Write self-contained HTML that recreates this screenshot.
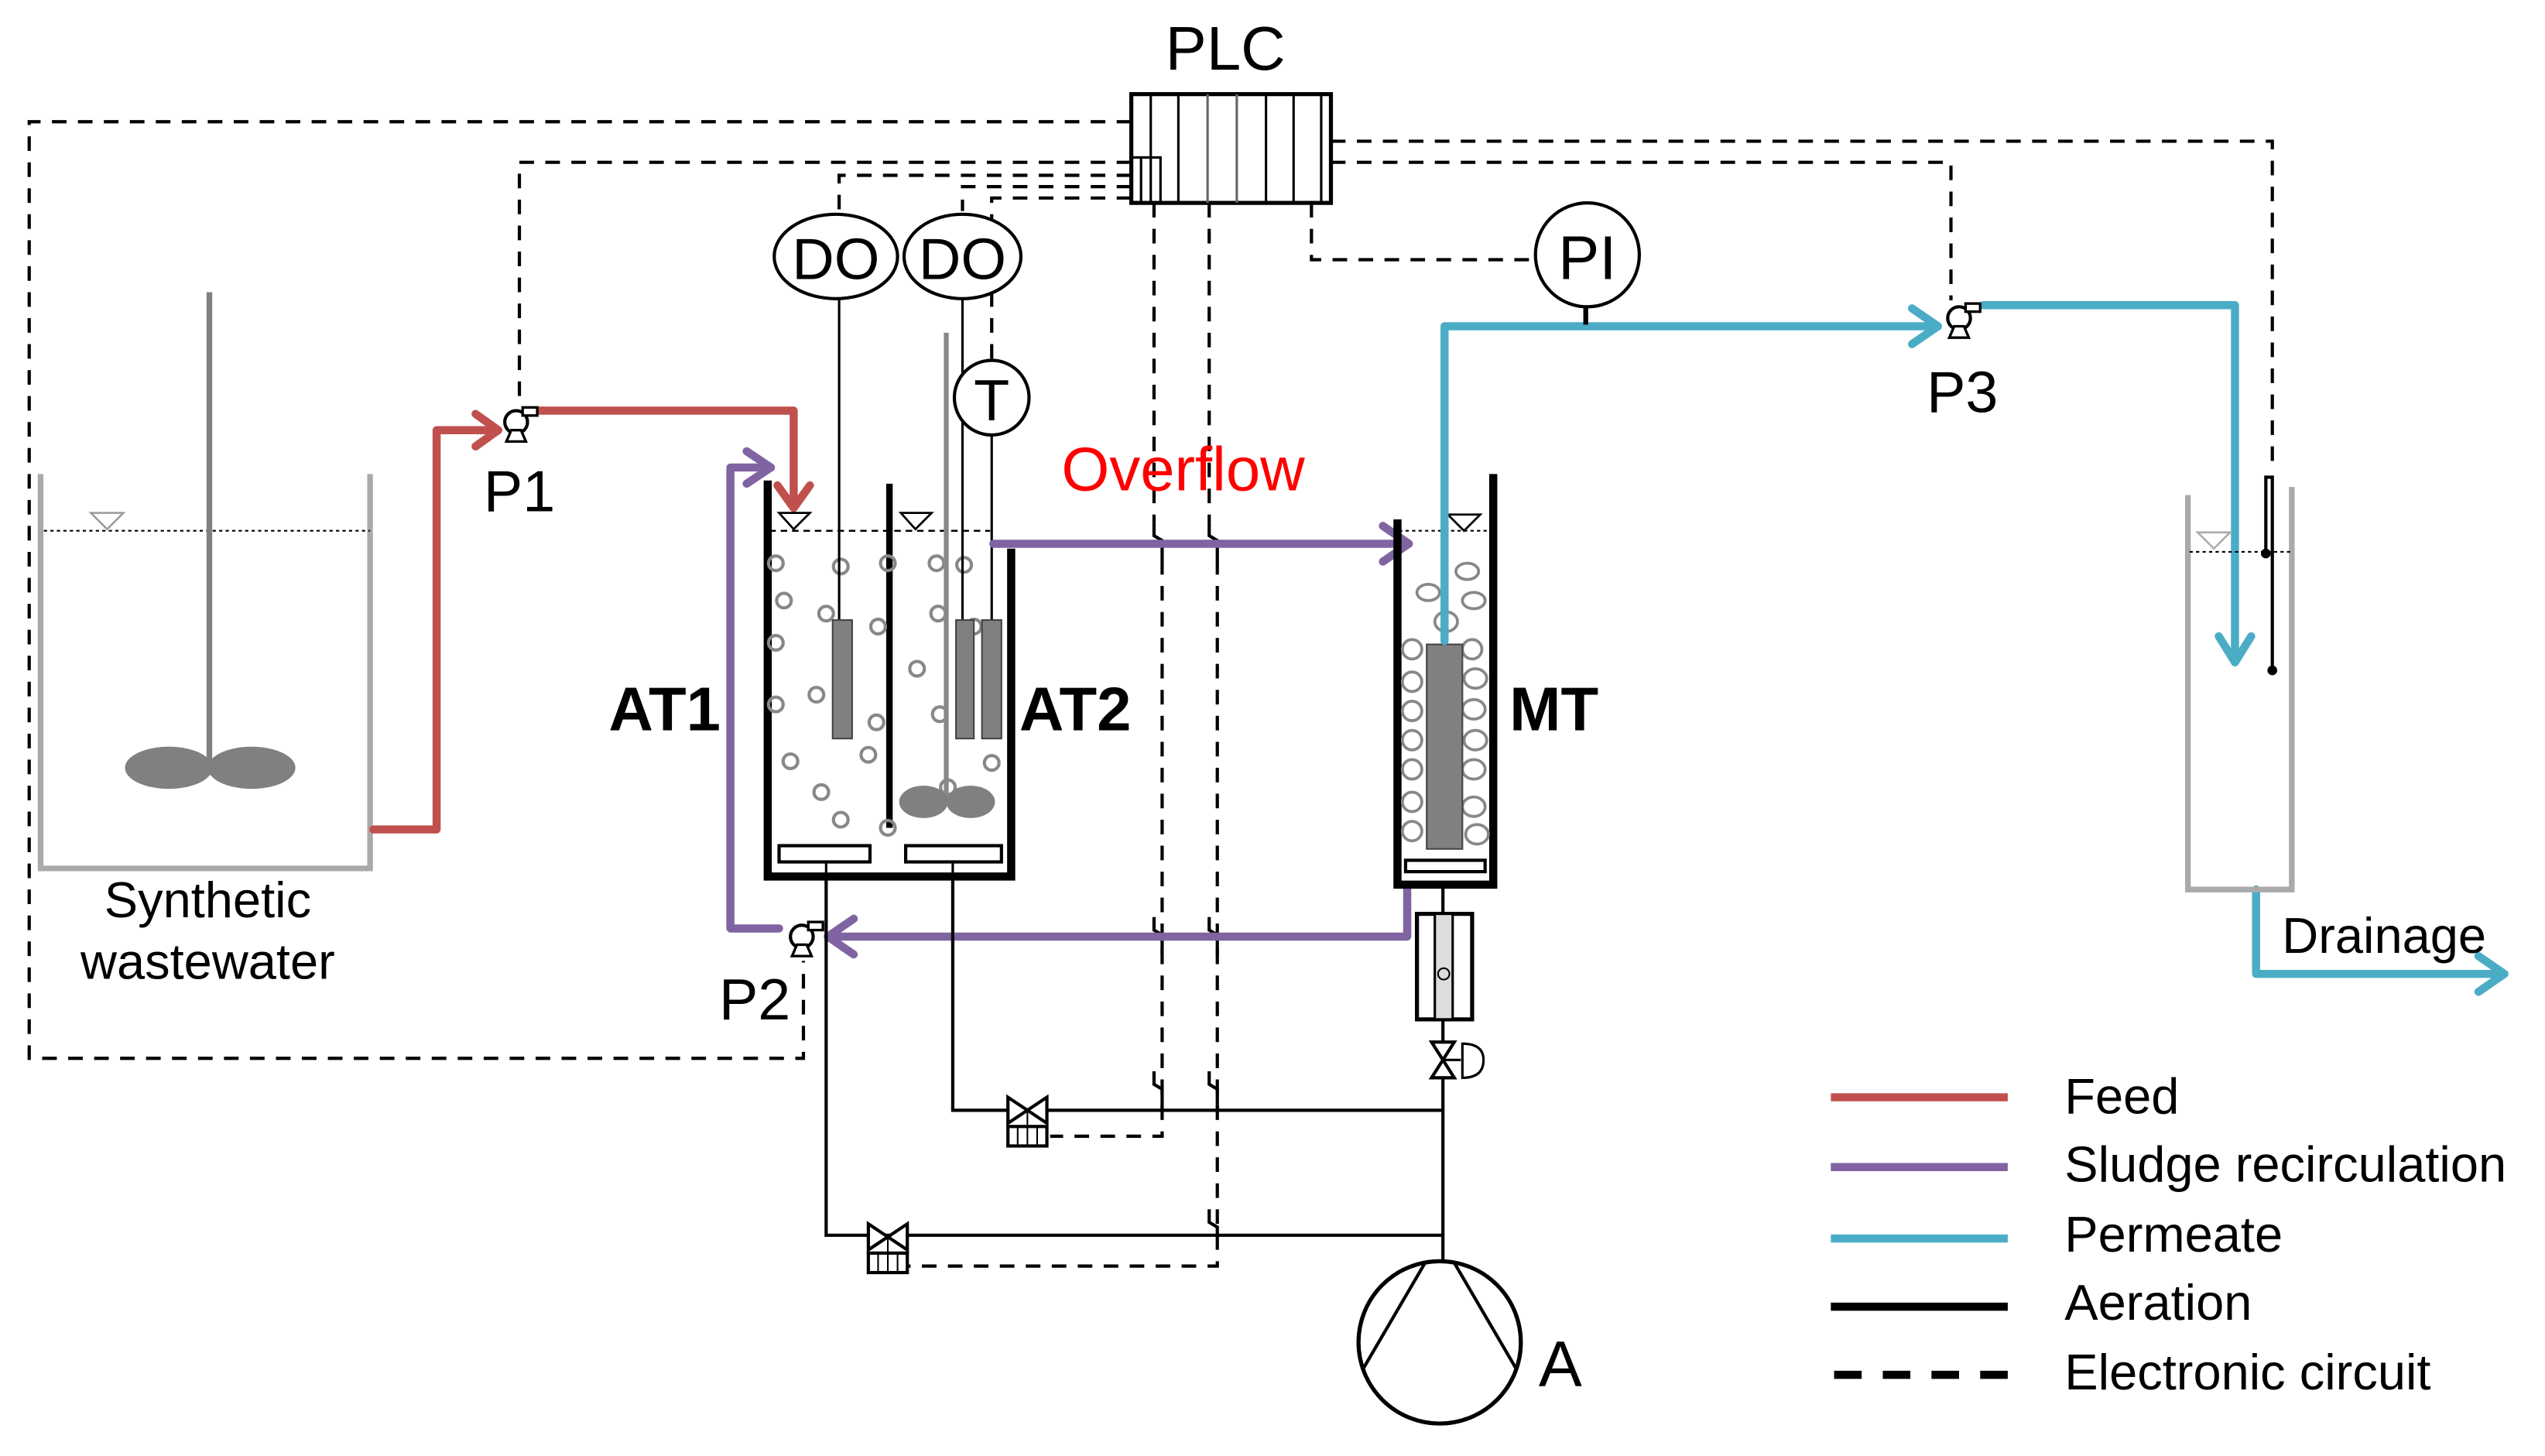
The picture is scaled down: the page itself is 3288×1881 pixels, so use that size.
<!DOCTYPE html>
<html><head><meta charset="utf-8"><style>
html,body{margin:0;padding:0;background:#fff}
svg{display:block}
text{font-family:"Liberation Sans",Arial,sans-serif}
</style></head><body>
<svg width="3288" height="1881" viewBox="0 0 1568 897" preserveAspectRatio="none" xmlns="http://www.w3.org/2000/svg">
<defs>
<g id="pump"><circle cx="0" cy="0" r="7" fill="#fff" stroke="#000" stroke-width="2"/><rect x="4" y="-9" width="9" height="5" fill="#fff" stroke="#000" stroke-width="1.6"/><path d="M-6 12 L-3 5 L3 5 L6 12 Z" fill="#fff" stroke="#000" stroke-width="1.6"/></g>
<g id="valve"><path d="M-12 -8 L12 8 L12 -8 L-12 8 Z" fill="#fff" stroke="#000" stroke-width="2"/><line x1="0" y1="0" x2="0" y2="10" stroke="#000" stroke-width="1"/><rect x="-12" y="10" width="24" height="12" fill="#fff" stroke="#000" stroke-width="2"/><line x1="-6" y1="10" x2="-6" y2="22" stroke="#000" stroke-width="1"/><line x1="0" y1="10" x2="0" y2="22" stroke="#000" stroke-width="1"/><line x1="6" y1="10" x2="6" y2="22" stroke="#000" stroke-width="1"/></g>
</defs>
<rect width="1568" height="897" fill="#fff"/>

<g fill="none" stroke="#000" stroke-width="2" stroke-dasharray="9,7">
<path d="M697 75 H18 V652 H495 V592"/>
<path d="M697 100 H320 V246"/>
<path d="M697 108 H517 V130"/>
<path d="M697 115 H593 V130"/>
<path d="M697 122 H611 V222"/>
<path d="M820 87 H1400 V285"/>
<path d="M820 100 H1202 V185"/>
<path d="M808 125 V160 H946"/>
<path d="M711 125 V322 M716 345 V700 H647"/>
<path d="M745 125 V322 M750 345 V780 H560"/>
</g>
<g fill="none" stroke="#000" stroke-width="2">
<path d="M711 322 V330 L716 333 V345"/>
<path d="M745 322 V330 L750 333 V345"/>
<path d="M711 565 V573 L716 576 V588"/>
<path d="M745 565 V573 L750 576 V588"/>
<path d="M711 660 V668 L716 671 V684"/>
<path d="M745 660 V668 L750 671 V684"/>
<path d="M745 745 V753 L750 756 V762"/>
</g>

<text x="755" y="43" font-size="38" text-anchor="middle">PLC</text>
<rect x="697" y="58" width="123" height="67" fill="#fff" stroke="#000" stroke-width="2.5"/>
<g stroke="#000" stroke-width="1.5">
<line x1="709" y1="58" x2="709" y2="125"/><line x1="726" y1="58" x2="726" y2="125"/>
<line x1="744" y1="58" x2="744" y2="125" stroke="#666"/><line x1="762" y1="58" x2="762" y2="125" stroke="#666"/>
<line x1="780" y1="58" x2="780" y2="125"/><line x1="797" y1="58" x2="797" y2="125"/><line x1="814" y1="58" x2="814" y2="125"/>
<rect x="697" y="97" width="18" height="28" fill="none"/><line x1="703" y1="97" x2="703" y2="125"/>
</g>

<path d="M25 292 V535 H228 V292" fill="none" stroke="#aaa" stroke-width="3.5"/>
<line x1="27" y1="327" x2="228" y2="327" stroke="#000" stroke-width="1" stroke-dasharray="2,2"/>
<path d="M56 316 L76 316 L66 326 Z" fill="#fff" stroke="#999" stroke-width="1.2"/>
<line x1="129" y1="180" x2="129" y2="470" stroke="#808080" stroke-width="3.5"/>
<ellipse cx="104" cy="473" rx="27" ry="13" fill="#808080"/>
<ellipse cx="155" cy="473" rx="27" ry="13" fill="#808080"/>
<text x="128" y="565" font-size="31" text-anchor="middle">Synthetic</text>
<text x="128" y="603" font-size="31" text-anchor="middle">wastewater</text>

<g fill="none" stroke="#c0504d" stroke-width="5" stroke-linejoin="round" stroke-linecap="round">
<path d="M230 511 H269 V265 H305"/>
<path d="M293 255 L307 265 L293 275"/>
<path d="M332 253 H489 V312"/>
<path d="M479 299 L489 313 L499 299"/>
</g>
<use href="#pump" x="318" y="260"/>
<text x="298" y="315" font-size="36">P1</text>

<g stroke="#000" fill="none">
<path d="M473 296 V540 H623 V338" stroke-width="5"/>
<line x1="548" y1="298" x2="548" y2="510" stroke-width="4"/>
</g>
<line x1="474" y1="327" x2="610" y2="327" stroke="#000" stroke-width="1.2" stroke-dasharray="4,3"/>
<path d="M480 316 L499 316 L489 326 Z" fill="#fff" stroke="#000" stroke-width="1.3"/>
<path d="M555 316 L574 316 L564 326 Z" fill="#fff" stroke="#000" stroke-width="1.3"/>
<rect x="480" y="521" width="56" height="10" fill="#fff" stroke="#000" stroke-width="2"/>
<rect x="558" y="521" width="59" height="10" fill="#fff" stroke="#000" stroke-width="2"/>
<line x1="509" y1="531" x2="509" y2="540" stroke="#000" stroke-width="1.5"/>
<line x1="587" y1="531" x2="587" y2="540" stroke="#000" stroke-width="1.5"/>
<g fill="none" stroke="#888" stroke-width="2">
<circle cx="478" cy="347" r="4.5"/><circle cx="483" cy="370" r="4.5"/><circle cx="478" cy="396" r="4.5"/><circle cx="478" cy="434" r="4.5"/>
<circle cx="518" cy="349" r="4.5"/><circle cx="509" cy="378" r="4.5"/><circle cx="541" cy="386" r="4.5"/><circle cx="547" cy="347" r="4.5"/>
<circle cx="503" cy="428" r="4.5"/><circle cx="487" cy="469" r="4.5"/><circle cx="535" cy="465" r="4.5"/>
<circle cx="506" cy="488" r="4.5"/><circle cx="518" cy="505" r="4.5"/><circle cx="547" cy="510" r="4.5"/><circle cx="540" cy="445" r="4.5"/>
<circle cx="577" cy="347" r="4.5"/><circle cx="565" cy="412" r="4.5"/><circle cx="578" cy="378" r="4.5"/><circle cx="579" cy="440" r="4.5"/>
<circle cx="594" cy="348" r="4.5"/><circle cx="600" cy="386" r="4.5"/><circle cx="611" cy="470" r="4.5"/><circle cx="584" cy="485" r="4.5"/>
</g>
<line x1="583" y1="205" x2="583" y2="492" stroke="#888" stroke-width="3"/>
<ellipse cx="569" cy="494" rx="15" ry="10" fill="#808080"/>
<ellipse cx="598" cy="494" rx="15" ry="10" fill="#808080"/>
<g stroke="#000" stroke-width="1.5">
<line x1="517" y1="184" x2="517" y2="382"/><line x1="593" y1="184" x2="593" y2="382"/><line x1="611" y1="268" x2="611" y2="382"/>
</g>
<g fill="#808080" stroke="#444" stroke-width="1">
<rect x="513" y="382" width="12" height="73"/><rect x="589" y="382" width="11" height="73"/><rect x="605" y="382" width="12" height="73"/>
</g>
<ellipse cx="515" cy="158" rx="38" ry="26" fill="#fff" stroke="#000" stroke-width="2"/>
<ellipse cx="593" cy="158" rx="36" ry="26" fill="#fff" stroke="#000" stroke-width="2"/>
<text x="515" y="172" font-size="36" text-anchor="middle">DO</text>
<text x="593" y="172" font-size="36" text-anchor="middle">DO</text>
<circle cx="611" cy="245" r="23" fill="#fff" stroke="#000" stroke-width="2"/>
<text x="611" y="259" font-size="36" text-anchor="middle">T</text>
<text x="375" y="450" font-size="38" font-weight="bold">AT1</text>
<text x="628" y="450" font-size="38" font-weight="bold">AT2</text>

<text x="654" y="302" font-size="38" fill="#ff0000">Overflow</text>
<g fill="none" stroke="#8064a2" stroke-width="5" stroke-linejoin="round" stroke-linecap="round">
<path d="M612 335 H868"/>
<path d="M852 324 L868 335 L852 346"/>
<path d="M867 547 V577 H511"/>
<path d="M526 566 L510 577 L526 588"/>
<path d="M480 572 H450 V288 H474"/>
<path d="M460 278 L475 288 L460 298"/>
</g>
<use href="#pump" x="494" y="577"/>
<text x="443" y="628" font-size="36">P2</text>

<path d="M861 320 V545 H920 V292" fill="none" stroke="#000" stroke-width="5"/>
<line x1="862" y1="327" x2="918" y2="327" stroke="#000" stroke-width="1" stroke-dasharray="2,2"/>
<path d="M892 317 L912 317 L902 327 Z" fill="#fff" stroke="#000" stroke-width="1.3"/>
<g fill="none" stroke="#888" stroke-width="1.8">
<ellipse cx="880" cy="365" rx="7" ry="5"/><ellipse cx="904" cy="352" rx="7" ry="5"/><ellipse cx="908" cy="370" rx="7" ry="5"/><ellipse cx="891" cy="383" rx="7" ry="6"/>
<ellipse cx="870" cy="400" rx="6" ry="6"/><ellipse cx="907" cy="400" rx="6" ry="6"/>
<ellipse cx="870" cy="420" rx="6" ry="6"/><ellipse cx="909" cy="418" rx="7" ry="6"/>
<ellipse cx="870" cy="438" rx="6" ry="6"/><ellipse cx="908" cy="437" rx="7" ry="6"/>
<ellipse cx="870" cy="456" rx="6" ry="6"/><ellipse cx="909" cy="456" rx="7" ry="6"/>
<ellipse cx="870" cy="474" rx="6" ry="6"/><ellipse cx="908" cy="474" rx="7" ry="6"/>
<ellipse cx="870" cy="494" rx="6" ry="6"/><ellipse cx="908" cy="497" rx="7" ry="6"/>
<ellipse cx="870" cy="512" rx="6" ry="6"/><ellipse cx="910" cy="514" rx="7" ry="6"/>
</g>
<rect x="879" y="397" width="22" height="126" fill="#808080" stroke="#444" stroke-width="1"/>
<rect x="866" y="530" width="49" height="7" fill="#fff" stroke="#000" stroke-width="2"/>
<text x="930" y="450" font-size="38" font-weight="bold">MT</text>

<g fill="none" stroke="#4bacc6" stroke-width="5" stroke-linejoin="round" stroke-linecap="round">
<path d="M890 395 V201 H1193"/>
<path d="M1178 190 L1194 201 L1178 212"/>
<path d="M1222 188 H1377 V408"/>
<path d="M1367 392 L1377 408 L1387 392"/>
<path d="M1390 548 V600 H1542"/>
<path d="M1527 589 L1543 600 L1527 611"/>
</g>
<line x1="977" y1="189" x2="977" y2="200" stroke="#000" stroke-width="3"/>
<circle cx="978" cy="157" r="32" fill="#fff" stroke="#000" stroke-width="2"/>
<text x="978" y="172" font-size="38" text-anchor="middle">PI</text>
<use href="#pump" x="1207" y="196"/>
<text x="1187" y="254" font-size="36">P3</text>

<path d="M1348 305 V548 H1412 V300" fill="none" stroke="#aaa" stroke-width="3.5"/>
<line x1="1349" y1="340" x2="1412" y2="340" stroke="#000" stroke-width="1" stroke-dasharray="2,2"/>
<path d="M1354 328 L1374 328 L1364 338 Z" fill="#fff" stroke="#aaa" stroke-width="1.2"/>
<path d="M1396 340 V294 H1400 V413" fill="none" stroke="#000" stroke-width="2"/>
<circle cx="1396" cy="341" r="3" fill="#000"/><circle cx="1400" cy="413" r="3" fill="#000"/>
<text x="1406" y="587" font-size="31">Drainage</text>

<g fill="none" stroke="#000" stroke-width="2">
<path d="M509 540 V761 H889"/>
<path d="M587 540 V684 H889"/>
<path d="M889 545 V563 M889 628 V778"/>
</g>
<rect x="873" y="563" width="34" height="65" fill="#fff" stroke="#000" stroke-width="2.5"/>
<rect x="884" y="563" width="11" height="65" fill="#ddd" stroke="#000" stroke-width="1.5"/>
<circle cx="889.5" cy="600" r="3.5" fill="#ddd" stroke="#000" stroke-width="1"/>
<path d="M882 642 L896 642 L882 664 L896 664 Z" fill="#fff" stroke="#000" stroke-width="2"/>
<line x1="889" y1="653" x2="900" y2="653" stroke="#000" stroke-width="1.5"/>
<path d="M901 643 Q914 643 914 653 Q914 664 901 664 Z" fill="#fff" stroke="#000" stroke-width="1.5"/>
<use href="#valve" x="633" y="684"/>
<use href="#valve" x="547" y="762"/>
<circle cx="887" cy="827" r="50" fill="#fff" stroke="#000" stroke-width="2.5"/>
<path d="M840 843 L878 778 M896 778 L934 843" fill="none" stroke="#000" stroke-width="2"/>
<text x="948" y="854" font-size="40">A</text>

<g stroke-width="5">
<line x1="1128" y1="676" x2="1237" y2="676" stroke="#c0504d"/>
<line x1="1128" y1="719" x2="1237" y2="719" stroke="#8064a2"/>
<line x1="1128" y1="763" x2="1237" y2="763" stroke="#4bacc6"/>
<line x1="1128" y1="805" x2="1237" y2="805" stroke="#000"/>
<line x1="1130" y1="847" x2="1237" y2="847" stroke="#000" stroke-dasharray="17,13"/>
</g>
<g font-size="31">
<text x="1272" y="686">Feed</text>
<text x="1272" y="728">Sludge recirculation</text>
<text x="1272" y="771">Permeate</text>
<text x="1272" y="813">Aeration</text>
<text x="1272" y="856">Electronic circuit</text>
</g>
</svg>
</body></html>
